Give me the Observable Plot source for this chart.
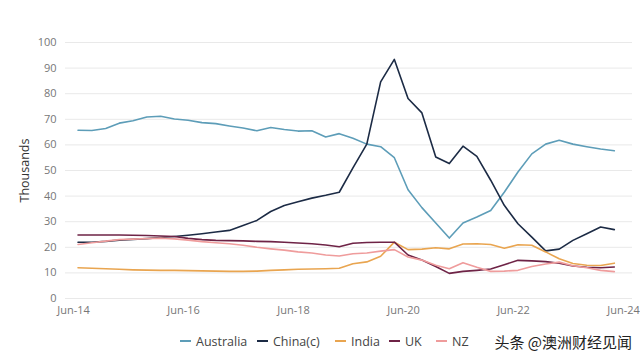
<!DOCTYPE html>
<html><head><meta charset="utf-8">
<script src="https://cdn.jsdelivr.net/npm/d3@7"></script>
<script src="https://cdn.jsdelivr.net/npm/@observablehq/plot@0.6"></script>
<style>
body{margin:0;background:#fff;font-family:"Open Sans",sans-serif;}
#chart{width:640px;height:325px;}
#legend{position:relative;width:640px;height:32px;font-size:12.5px;color:#444;}
.item{position:absolute;top:0;height:32px;display:flex;align-items:center;white-space:nowrap;}
.sw{display:inline-block;width:11px;height:2px;margin-right:5px;}
#wm{position:absolute;right:8px;top:0;height:32px;display:flex;align-items:center;font-family:"Noto Sans CJK SC",sans-serif;font-size:15px;color:#222;}
</style></head>
<body>
<div id="chart"></div>
<div id="legend"></div>
<script>
const series = ["Australia", "China(c)", "India", "UK", "NZ"];
const colors = ["#5d9db8", "#1c2b45", "#e9a550", "#6e2346", "#ef9c9c"];
const xTickLabels = ["Jun-14", "Jun-16", "Jun-18", "Jun-20", "Jun-22", "Jun-24"];
const yTicks = [0, 10, 20, 30, 40, 50, 60, 70, 80, 90, 100];

const australia = [65.7,65.6,66.4,68.5,69.4,70.9,71.2,70.1,69.6,68.7,68.3,67.4,66.6,65.5,66.8,66.0,65.4,65.5,63.1,64.4,62.6,60.3,59.3,55.0,42.5,35.5,29.5,23.6,29.5,31.8,34.4,41.5,49.4,56.5,60.3,61.8,60.3,59.3,58.4,57.7,57.0];
const china = [22.0,22.0,22.3,22.8,23.1,23.4,23.8,24.2,24.7,25.3,26.0,26.6,28.5,30.5,34.0,36.3,37.8,39.2,40.3,41.5,51.0,60.3,84.6,93.4,78.1,72.5,55.3,52.7,59.5,55.5,46.2,36.4,29.2,24.0,18.6,19.3,22.7,25.3,27.9,26.9,26.0];
const india = [12.0,11.8,11.6,11.4,11.2,11.1,11.0,11.0,10.9,10.8,10.7,10.6,10.6,10.7,11.0,11.2,11.4,11.5,11.6,11.8,13.6,14.3,16.5,22.0,19.1,19.3,19.8,19.4,21.3,21.4,21.1,19.6,21.0,20.8,18.2,15.5,13.7,13.0,12.9,13.8,15.1];
const uk = [24.8,24.8,24.8,24.8,24.7,24.6,24.4,24.2,23.5,23.0,22.7,22.6,22.5,22.3,22.2,22.0,21.7,21.4,20.9,20.2,21.6,21.9,22.0,22.0,17.0,15.0,12.5,9.8,10.6,11.0,11.5,13.2,14.9,14.7,14.4,13.8,12.7,12.2,12.0,12.3,13.2];
const nz = [21.1,21.8,22.4,23.0,23.2,23.4,23.6,23.3,22.8,22.2,21.8,21.4,20.8,20.0,19.4,18.9,18.2,17.8,17.0,16.6,17.5,17.8,18.5,19.1,16.2,15.0,13.0,11.6,14.0,12.2,10.6,10.7,11.0,12.5,13.5,14.2,12.8,12.0,11.0,10.5,10.0];

// quarterly dates Jun-2014 .. Jun-2024
const quarters = d3.utcMonth.every(3).range(new Date(Date.UTC(2014,5,1)), new Date(Date.UTC(2024,5,2)));
const parseTick = d3.utcParse("%b-%y");
const xTicks = xTickLabels.map(parseTick);

const valuesBySeries = [australia, china, india, uk, nz];
const data = [];
series.forEach((s, k) => valuesBySeries[k].forEach((v, i) => data.push({series: s, date: quarters[i], value: v})));

const chart = Plot.plot({
  width: 640,
  height: 325,
  marginTop: 42,
  marginBottom: 27,
  marginLeft: 65,
  marginRight: 8,
  style: {fontFamily: "Open Sans, sans-serif", fontSize: "11px", color: "#777", background: "#fff"},
  x: {type: "utc", domain: [xTicks[0], xTicks[xTicks.length - 1]], insetLeft: 8, insetRight: 9, ticks: xTicks, tickFormat: d3.utcFormat("%b-%y"), tickSize: 0, tickPadding: 8, label: null},
  y: {domain: [0, 100], ticks: yTicks, tickSize: 0, tickPadding: 9, label: "Thousands", labelAnchor: "center", labelArrow: "none", labelOffset: 45},
  color: {domain: series, range: colors},
  marks: [
    Plot.ruleY(yTicks, {stroke: "#e9e9e9", strokeWidth: 1}),
    Plot.axisY({ticks: yTicks, tickSize: 0, tickPadding: 9, label: "Thousands", labelAnchor: "center", labelArrow: "none", labelOffset: 45, fill: "#777"}),
    Plot.axisX({ticks: xTicks, tickFormat: d3.utcFormat("%b-%y"), tickSize: 0, tickPadding: 8, label: null, fill: "#777"}),
    Plot.lineY(data, {x: "date", y: "value", z: "series", stroke: "series", strokeWidth: 1.6, curve: "linear"})
  ]
});
document.getElementById("chart").appendChild(chart);
chart.querySelectorAll("g[aria-label='y-axis label'] text").forEach(t => { t.setAttribute("fill", "#333"); t.style.fontSize = "12.5px"; });

const legendPos = [180, 257, 335, 389, 436];
const leg = document.getElementById("legend");
series.forEach((s, k) => {
  const it = document.createElement("div");
  it.className = "item";
  it.style.left = legendPos[k] + "px";
  it.innerHTML = `<span class="sw" style="background:${colors[k]}"></span>${s}`;
  leg.appendChild(it);
});
const wm = document.createElement("div");
wm.id = "wm";
wm.textContent = "头条 @澳洲财经见闻";
leg.appendChild(wm);
</script>
</body></html>
